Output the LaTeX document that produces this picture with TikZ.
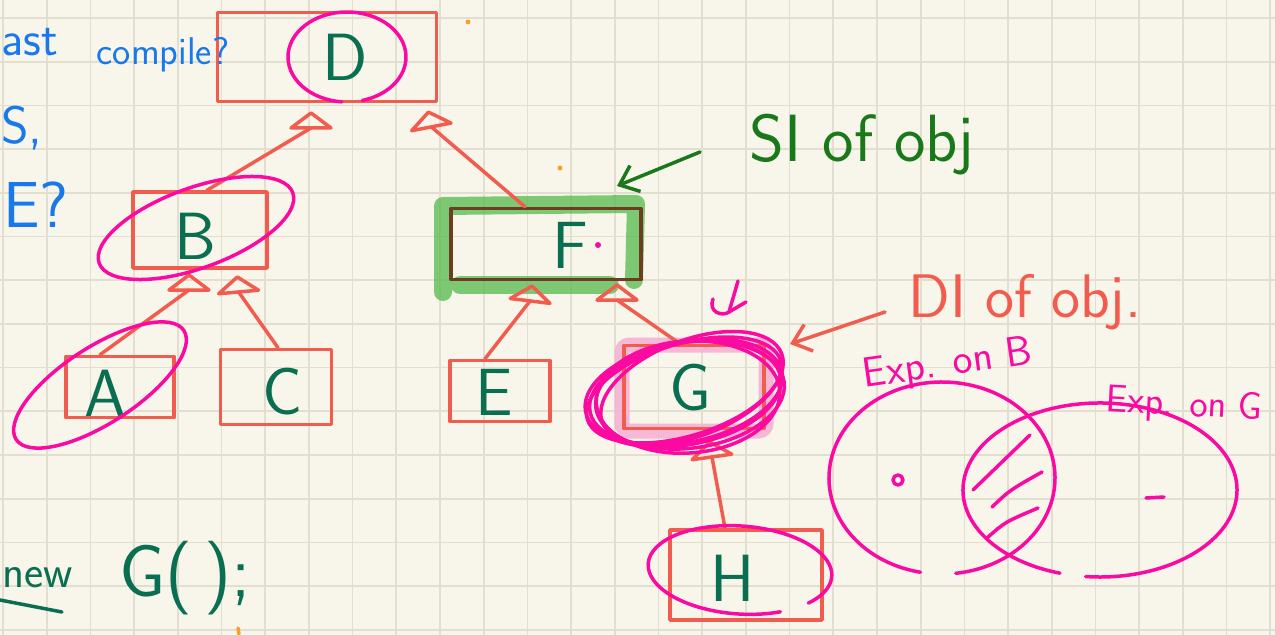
\documentclass[tikz,border=0pt]{standalone}
\usetikzlibrary{arrows.meta,calc}

\definecolor{paper}{RGB}{248,246,235}
\definecolor{gridc}{RGB}{226,223,208}
\definecolor{boxred}{RGB}{242,92,78}
\definecolor{mag}{RGB}{250,10,160}
\definecolor{ink}{RGB}{10,110,80}
\definecolor{sigreen}{RGB}{25,120,25}
\definecolor{blueink}{RGB}{25,120,235}
\definecolor{hlgreen}{RGB}{85,185,75}
\definecolor{boxbrown}{RGB}{110,60,35}
\definecolor{hlpink}{RGB}{245,175,210}
\definecolor{orangedot}{RGB}{245,160,40}

\tikzset{
  pen/.style={line width=0.7mm, line cap=round, line join=round},
  redpen/.style={pen, draw=boxred},
  magpen/.style={pen, draw=mag},
  box/.style={redpen, inner sep=0pt},
  letter/.style={text=ink, font=\fontsize{38}{38}\selectfont\sffamily},
  link/.style={redpen},
  note/.style={pen, -{Straight Barb[length=3.4mm, width=5.6mm]}},
  hand/.style={font=\fontsize{#1}{#1}\selectfont\sffamily, inner sep=0pt},
  tri/.pic={
    \draw[redpen] (-20,7) -- (0,-8) -- (20,7) -- cycle;
    \coordinate (-base) at (0,7);
  },
}

\begin{document}
\begin{tikzpicture}[x=0.02cm, y=-0.02cm]
  % paper and grid
  \useasboundingbox (0,0) rectangle (1275,635);
  \fill[paper] (0,0) rectangle (1275,635);
  \foreach \i in {0,...,29}
    \draw[gridc, line width=0.35mm] ({3+43.7*\i},0) -- ++(0,635);
  \foreach \j in {0,...,14}
    \draw[gridc, line width=0.35mm] (0,{18+43.7*\j}) -- ++(1275,0);

  % highlighter strokes
  \draw[hlgreen, opacity=0.75, line width=0.36cm, line cap=round, line join=round]
    (443,292) -- (443,206) -- (636,204) -- (634,280)
    (460,285) -- (610,285);
  \draw[hlpink, opacity=0.85, line width=0.3cm, rounded corners=0.15cm]
    (622,345) rectangle (766,431);

  % class boxes
  \node[box, minimum width=4.38cm, minimum height=1.78cm] (bD) at (327,57) {};
  \node[box, minimum width=2.68cm, minimum height=1.52cm] (bB) at (200,230) {};
  \node[box, minimum width=2.16cm, minimum height=1.22cm] (bA) at (120,387) {};
  \node[box, minimum width=2.22cm, minimum height=1.50cm] (bC) at (276,387) {};
  \node[box, draw=boxbrown, minimum width=3.80cm, minimum height=1.42cm] (bF) at (546,244) {};
  \node[box, minimum width=2.00cm, minimum height=1.22cm] (bE) at (500,391) {};
  \node[box, minimum width=2.80cm, minimum height=1.66cm] (bG) at (694,387) {};
  \node[box, minimum width=3.04cm, minimum height=1.80cm] (bH) at (746,575) {};

  % class names
  \node[letter] (D) at (345,57) {D};
  \node[letter] (B) at (195,236) {B};
  \node[letter] (A) at (105,393) {A};
  \node[letter] (C) at (283,392) {C};
  \node[letter] (F) at (570,245) {F};
  \node[letter] (E) at (494,392) {E};
  \node[letter] (G) at (690,388) {G};
  \node[letter] (H) at (733,578) {H};

  % inheritance heads
  \pic (tD1) at (311,121) {tri};
  \pic[rotate=11] (tD2) at (430,120) {tri};
  \pic (tB1) at (189,283) {tri};
  \pic[rotate=5] (tB2) at (238,285) {tri};
  \pic[rotate=-7] (tF1) at (531,294) {tri};
  \pic (tF2) at (617,293) {tri};
  \pic[rotate=8] (tG) at (711,450) {tri};

  % inheritance links
  \draw[link] ($(bB.north)+(7,0)$) -- (tD1-base);
  \draw[link] ($(bF.north)+(-21,0)$) -- (tD2-base);
  \draw[link] ($(bA.north)+(-20,0)$) -- (tB1-base);
  \draw[link] ($(bC.north)+(2,0)$) -- (tB2-base);
  \draw[link] ($(bE.north)+(-15,0)$) -- (tF1-base);
  \draw[link] ($(bG.north)+(-14,0)$) -- (tF2-base);
  \draw[link] ($(bH.north)+(-21,0)$) -- (tG-base);

  % circled classes
  \draw[magpen] (347,57) ++(95:59 and 45) arc[start angle=95, end angle=435, x radius=59, y radius=45];
  \draw[magpen, rotate around={20:(196,228)}] (196,228) ellipse[x radius=103, y radius=40];
  \draw[magpen, rotate around={33:(100,385)}] (100,385) ellipse[x radius=100, y radius=38];
  \draw[magpen, rotate around={-4:(740,570)}] (740,570) ++(62:92 and 44) arc[start angle=62, end angle=400, x radius=92, y radius=44];
  \foreach \cx/\cy/\rx/\ry/\r in {686/392/98/50/12, 690/395/95/53/8, 684/390/101/46/17,
                                  688/397/92/56/4, 692/388/96/48/21, 683/394/99/51/10}
    \draw[magpen, rotate around={\r:(\cx,\cy)}] (\cx,\cy) ellipse[x radius=\rx, y radius=\ry];
  \draw[magpen] (738,281) -- (729,312);
  \draw[magpen] (713,299) .. controls (708,312) and (722,317) .. (729,312) -- (746,302);
  \fill[mag] (598,245) circle[radius=3];

  % annotations
  \node[hand=38, text=sigreen] (si) at (862,145) {SI of obj};
  \coordinate (siTail) at (700,152);
  \coordinate (siHead) at (617,186);
  \draw[note, sigreen] (siTail) -- (siHead);

  \node[hand=35, text=boxred] (di) at (1025,302) {DI of obj.};
  \coordinate (diTail) at (885,312);
  \coordinate (diHead) at (790,344);
  \draw[note, boxred] (diTail) -- (diHead);

  \node[hand=24, text=mag, rotate=8] (expB) at (948,365) {Exp. on B};
  \node[hand=22, text=mag, anchor=west, rotate=-3] (expG) at (1106,402) {Exp. on G};

  % expression sets
  \draw[magpen] (942,478) ++(101:113 and 96) arc[start angle=101, end angle=443, x radius=113, y radius=96];
  \draw[magpen] (1100,490) ++(107:137 and 87) arc[start angle=107, end angle=456, x radius=137, y radius=87];
  \draw[magpen] (973,490) -- (1030,435);
  \draw[magpen] (992,507) .. controls (1010,490) .. (1042,472);
  \draw[magpen] (987,538) .. controls (1005,522) .. (1038,508);
  \draw[magpen] (898,480) circle[radius=5];
  \draw[magpen] (1146,498) -- (1164,497);

  % margin notes
  \node[hand=28, text=blueink, anchor=west] (q1) at (1,42) {ast};
  \node[hand=22, text=blueink] (q2) at (163,55) {compile?};
  \node[hand=30, text=blueink, anchor=west] (q3) at (1,128) {S,};
  \node[hand=37, text=blueink] (q4) at (36,205) {E?};
  \node[hand=26, text=ink, anchor=west] (nw) at (2,578) {new};
  \draw[pen, ink] (0,600) -- (62,612);
  \node[hand=42, text=ink] (ng) at (185,578) {G(\,);};

  % stray marks
  \fill[orangedot] (468,22) circle[radius=2.5];
  \fill[orangedot] (560,168) circle[radius=2.5];
  \draw[pen, orangedot] (238,628) -- (239,634);
\end{tikzpicture}
\end{document}
